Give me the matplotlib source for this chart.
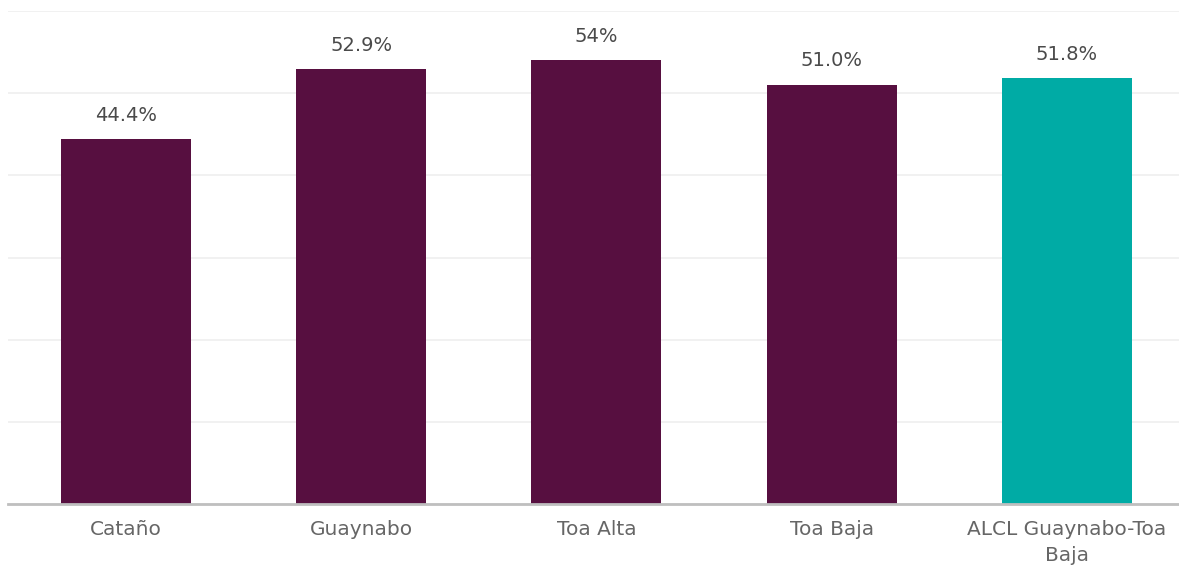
import matplotlib.pyplot as plt

categories = ["Cataño", "Guaynabo", "Toa Alta", "Toa Baja", "ALCL Guaynabo-Toa\nBaja"]
values = [44.4, 52.9, 54.0, 51.0, 51.8]
value_labels = ["44.4%", "52.9%", "54%", "51.0%", "51.8%"]
colors = ["#570F40", "#570F40", "#570F40", "#570F40", "#00ABA5"]

plt.rcParams['font.family'] = ['DejaVu Sans']

fig = plt.figure(figsize=(11.79, 5.69), dpi=100)
ax = fig.add_axes([8 / 1179, 65 / 569, 1 - 8 / 1179, (504 - 11) / 569])

x = range(len(categories))
bars = ax.bar(x, values, width=0.553, color=colors, zorder=3)

# value labels above each bar
for b, lab in zip(bars, value_labels):
    ax.annotate(lab, (b.get_x() + b.get_width() / 2, b.get_height()),
                xytext=(0, 10.5), textcoords="offset points",
                ha="center", va="bottom", fontsize=14, color="#4a4a4a")

ax.set_xlim(-0.502, 4.477)
ax.set_ylim(0, 60)
ax.set_yticks(range(0, 61, 10))
ax.yaxis.grid(True, color="#efefef", linewidth=1.2, zorder=0)
ax.tick_params(axis="y", left=False, labelleft=False)
ax.tick_params(axis="x", bottom=False, pad=8)
ax.set_xticks(list(x))
ax.set_xticklabels(categories, fontsize=14.5, color="#666666", linespacing=1.45)

for side in ["top", "right", "left"]:
    ax.spines[side].set_visible(False)
ax.spines["bottom"].set_color("#bfbfbf")
ax.spines["bottom"].set_linewidth(2)
ax.spines["bottom"].set_zorder(4)

fig.savefig("out.png", dpi=100)
